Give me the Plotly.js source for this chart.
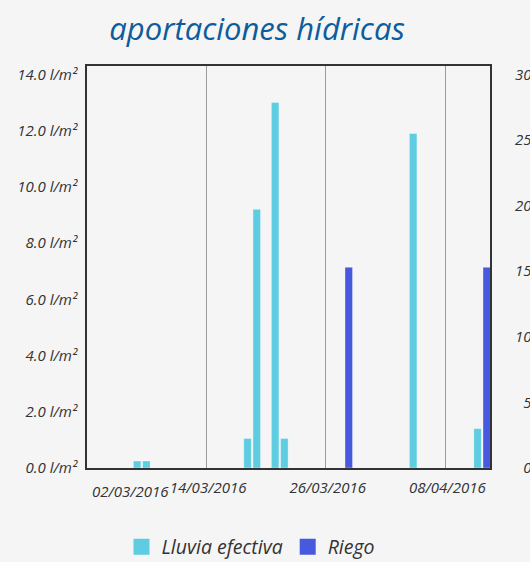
<!DOCTYPE html>
<html>
<head>
<meta charset="utf-8">
<script src="https://cdn.plot.ly/plotly-3.0.1.min.js"></script>
<style>
  html, body { margin: 0; padding: 0; background: #f5f5f5; overflow: hidden; }
  #chart { width: 530px; height: 562px; }
</style>
</head>
<body>
<div id="chart"></div>
<script>
// ── DATA ────────────────────────────────────────────
const rainDates  = ['2016-03-06','2016-03-07','2016-03-18','2016-03-19','2016-03-21','2016-03-22','2016-04-05','2016-04-12'];
const rainValues = [0.25, 0.25, 1.05, 9.2, 13.0, 1.05, 11.9, 1.4];

const irrigationDates  = ['2016-03-29','2016-04-13'];
const irrigationValues = [15.3, 15.3];

// x ticks (the first label sits at the left edge of the plot)
const firstTickLabel = '02/03/2016';
const tickDates  = ['2016-03-14','2016-03-27','2016-04-09'];
const tickLabels = ['14/03/2016','26/03/2016','08/04/2016'];

const leftTicks   = [0, 2, 4, 6, 8, 10, 12, 14];
const rightTicks  = [0, 5, 10, 15, 20, 25, 30];

const RAIN_COLOR = '#5ecde2';
const IRR_COLOR  = '#4759df';
const DAY_MS = 86400000;

const FONT = { family: '"Open Sans", sans-serif', style: 'italic', color: '#333', size: 15 };

// pad single-digit labels so the right axis reads right-aligned
const rightLabel = v => (v < 10 ? '\u2007' : '') + v.toFixed(1) + ' l/m²';

const barStyle = color => ({ color: color, line: { color: 'rgba(255,255,255,0.35)', width: 1 } });

const traces = [
  {
    type: 'bar', name: 'Lluvia efectiva', x: rainDates, y: rainValues,
    xperiod: DAY_MS, xperiodalignment: 'middle', width: 0.82 * DAY_MS,
    marker: barStyle(RAIN_COLOR), showlegend: false, yaxis: 'y'
  },
  {
    type: 'bar', name: 'Riego', x: irrigationDates, y: irrigationValues,
    xperiod: DAY_MS, xperiodalignment: 'middle', width: 0.82 * DAY_MS,
    marker: barStyle(IRR_COLOR), showlegend: false, yaxis: 'y2'
  },
  // legend entries (bigger squares than the bar legend icon)
  { type: 'scatter', mode: 'markers', name: 'Lluvia efectiva', x: [null], y: [null],
    marker: { symbol: 'square', size: 17, color: RAIN_COLOR } },
  { type: 'scatter', mode: 'markers', name: 'Riego', x: [null], y: [null],
    marker: { symbol: 'square', size: 17, color: IRR_COLOR } }
];

const layout = {
  width: 530, height: 562,
  paper_bgcolor: '#f5f5f5', plot_bgcolor: '#f5f5f5',
  font: FONT,
  margin: { l: 87, r: 40, t: 66, b: 94 },
  barmode: 'overlay',
  title: {
    text: 'aportaciones hídricas',
    font: { family: '"Open Sans", sans-serif', style: 'italic', size: 31, color: '#0e5c9b' },
    xref: 'container', x: 0.485, xanchor: 'center',
    yref: 'container', y: 1 - 29 / 562, yanchor: 'middle'
  },
  xaxis: {
    type: 'date',
    range: ['2016-03-01 01:12', '2016-04-13 20:24'],
    tickmode: 'array', tickvals: tickDates, ticktext: tickLabels,
    showgrid: true, gridcolor: '#9a9a9a', gridwidth: 1,
    showline: true, linecolor: '#333', linewidth: 2, mirror: true,
    ticks: '', ticklabelstandoff: 5, ticklabelshift: 2, zeroline: false,
    tickfont: FONT
  },
  yaxis: {
    range: [0, 14.3],
    tickmode: 'array', tickvals: leftTicks, ticktext: leftTicks.map(v => v.toFixed(1) + ' l/m²'),
    showgrid: false, zeroline: false,
    showline: true, linecolor: '#333', linewidth: 2, mirror: true,
    ticks: '', ticklabelstandoff: 5,
    tickfont: FONT
  },
  yaxis2: {
    overlaying: 'y', side: 'right',
    range: [0, 14.3 * 30 / 14],
    tickmode: 'array', tickvals: rightTicks, ticktext: rightTicks.map(rightLabel),
    showgrid: false, zeroline: false, showline: false,
    ticks: '', ticklabelstandoff: 24,
    tickfont: FONT
  },
  legend: {
    orientation: 'h',
    xref: 'container', x: 251 / 530, xanchor: 'center',
    yref: 'container', y: 1 - 547 / 562, yanchor: 'middle',
    font: { family: '"Open Sans", sans-serif', style: 'italic', size: 19.5, color: '#333' },
    bgcolor: 'rgba(0,0,0,0)', itemwidth: 30
  },
  annotations: [{
    text: firstTickLabel, showarrow: false,
    xref: 'paper', x: 0, xanchor: 'left', xshift: 3,
    yref: 'paper', y: 0, yanchor: 'top', yshift: -11,
    font: FONT
  }]
};

Plotly.newPlot('chart', traces, layout, { displayModeBar: false, staticPlot: true });
</script>
</body>
</html>
